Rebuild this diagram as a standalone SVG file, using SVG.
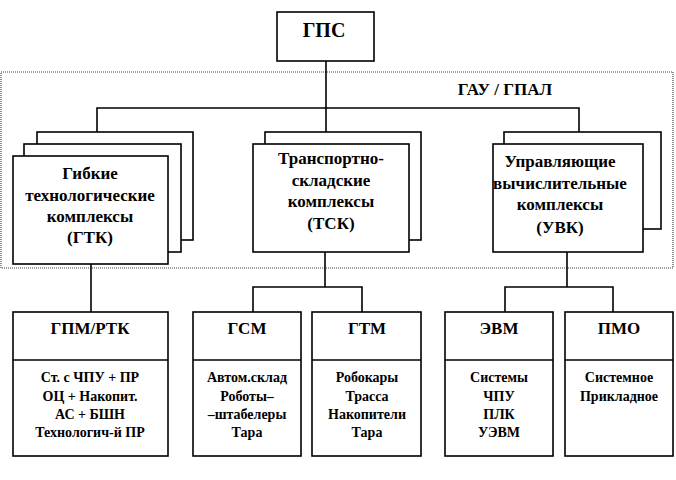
<svg xmlns="http://www.w3.org/2000/svg" width="676" height="480" viewBox="0 0 676 480">
<style>
.b{fill:#fff;stroke:#000;stroke-width:1.6}
.c{fill:none;stroke:#000;stroke-width:1.6}
text{font-weight:bold;text-anchor:middle;fill:#000}
.t1{font-size:20px}
.t2{font-size:17px}
.t3{font-size:14px}
</style>
<rect width="676" height="480" fill="#fff"/>
<g font-family="'Liberation Serif', 'DejaVu Serif', serif">
<g id="gau">
<rect x="1" y="72" width="672" height="196" fill="none" stroke="#444" stroke-width="1.2" stroke-dasharray="1 1"/>
<text class="t2" x="505" y="95">ГАУ / ГПАЛ</text>
</g>
<g id="connectors">
<path class="c" d="M326 61V132M97 132V108H579V132"/>
<path class="c" d="M91 264V312"/>
<path class="c" d="M325 252V287M253 312V287H362V312"/>
<path class="c" d="M567 252V287M505 312V287H613V312"/>
</g>
<g id="gps">
<rect class="b" x="277" y="12" width="97" height="49"/>
<text class="t1" x="324" y="37">ГПС</text>
</g>
<g id="gtk">
<rect class="b" x="37" y="132" width="156" height="108"/>
<rect class="b" x="24" y="144" width="157" height="108"/>
<rect class="b" x="13" y="156" width="155" height="108"/>
<text class="t2" x="90" y="179">Гибкие</text>
<text class="t2" x="90" y="201">технологические</text>
<text class="t2" x="90" y="222">комплексы</text>
<text class="t2" x="90" y="243">(ГТК)</text>
</g>
<g id="tsk">
<rect class="b" x="265" y="132" width="156" height="108"/>
<rect class="b" x="253" y="144" width="156" height="108"/>
<text class="t2" x="331" y="164">Транспортно-</text>
<text class="t2" x="331" y="186">складские</text>
<text class="t2" x="331" y="207">комплексы</text>
<text class="t2" x="331" y="229">(ТСК)</text>
</g>
<g id="uvk">
<rect class="b" x="504" y="132" width="157" height="97"/>
<rect class="b" x="493" y="144" width="150" height="108"/>
<text class="t2" x="560" y="167">Управляющие</text>
<text class="t2" x="560" y="189">вычислительные</text>
<text class="t2" x="560" y="210">комплексы</text>
<text class="t2" x="560" y="233">(УВК)</text>
</g>
<g id="gpm">
<rect class="b" x="13" y="312" width="155" height="144"/>
<path class="c" d="M13 360H168"/>
<text class="t2" x="90" y="334">ГПМ/РТК</text>
<text class="t3" x="90" y="382">Ст. с ЧПУ + ПР</text>
<text class="t3" x="90" y="401">ОЦ + Накопит.</text>
<text class="t3" x="90" y="419">АС + БШН</text>
<text class="t3" x="90" y="437">Технологич-й ПР</text>
</g>
<g id="gsm">
<rect class="b" x="193" y="312" width="108" height="144"/>
<path class="c" d="M193 360H301"/>
<text class="t2" x="247" y="334">ГСМ</text>
<text class="t3" x="247" y="382">Автом.склад</text>
<text class="t3" x="247" y="401">Роботы–</text>
<text class="t3" x="247" y="419">–штабелеры</text>
<text class="t3" x="247" y="437">Тара</text>
</g>
<g id="gtm">
<rect class="b" x="312" y="312" width="109" height="144"/>
<path class="c" d="M312 360H421"/>
<text class="t2" x="367" y="334">ГТМ</text>
<text class="t3" x="367" y="382">Робокары</text>
<text class="t3" x="367" y="401">Трасса</text>
<text class="t3" x="367" y="419">Накопители</text>
<text class="t3" x="367" y="437">Тара</text>
</g>
<g id="evm">
<rect class="b" x="445" y="312" width="108" height="144"/>
<path class="c" d="M445 360H553"/>
<text class="t2" x="499" y="334">ЭВМ</text>
<text class="t3" x="499" y="382">Системы</text>
<text class="t3" x="499" y="401">ЧПУ</text>
<text class="t3" x="499" y="419">ПЛК</text>
<text class="t3" x="499" y="437">УЭВМ</text>
</g>
<g id="pmo">
<rect class="b" x="565" y="312" width="108" height="144"/>
<path class="c" d="M565 360H673"/>
<text class="t2" x="619" y="334">ПМО</text>
<text class="t3" x="619" y="382">Системное</text>
<text class="t3" x="619" y="401">Прикладное</text>
</g>
</g>
</svg>
